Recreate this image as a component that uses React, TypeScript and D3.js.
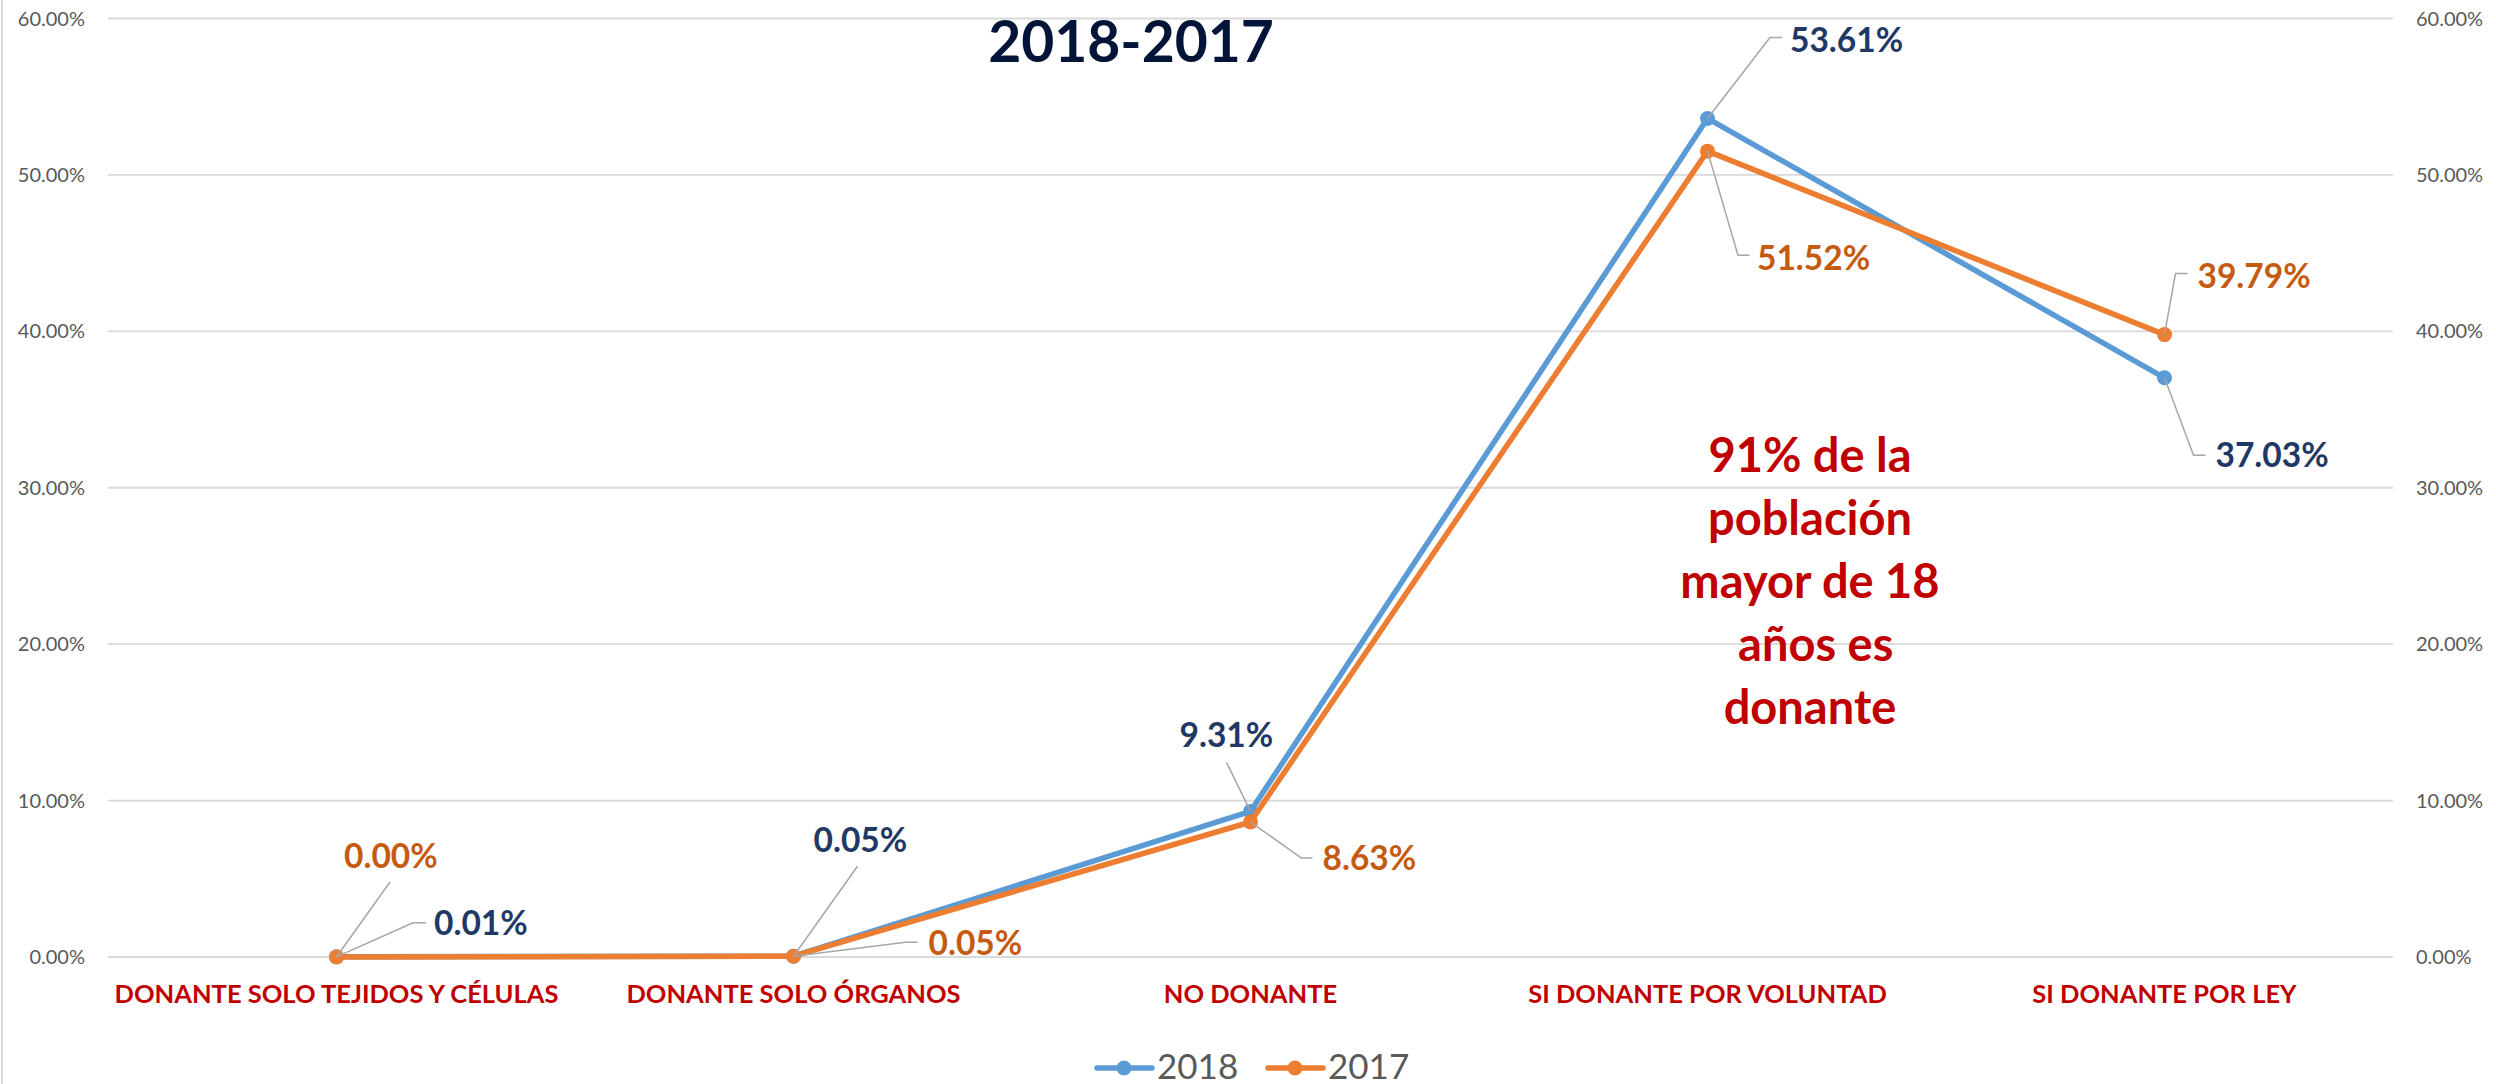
import React from "react";
import * as d3 from "d3";

const categories = [
  "DONANTE SOLO TEJIDOS Y CÉLULAS",
  "DONANTE SOLO ÓRGANOS",
  "NO DONANTE",
  "SI DONANTE POR VOLUNTAD",
  "SI DONANTE POR LEY",
];
const values2018 = [0.0001, 0.0005, 0.0931, 0.5361, 0.3703];
const values2017 = [0.0, 0.0005, 0.0863, 0.5152, 0.3979];
const yTicks = [0, 0.1, 0.2, 0.3, 0.4, 0.5, 0.6];
const seriesNames = ["2018", "2017"];
const annotationLines = ["91% de la", "población", "mayor de 18", " años es", "donante"];

// label placement offsets relative to each point (style)
const labelCfg2018 = [
  { dx: 97.5, dy: -22, lead: [[0, 0], [76.5, -34], [89.5, -34]] },
  { dx: 20, dy: -104, lead: [[0, 0], [64, -90]] },
  { dx: -71, dy: -64, lead: [[0, 0], [-24, -49]] },
  { dx: 82.5, dy: -66, lead: [[0, 0], [62.5, -81], [74.5, -81]] },
  { dx: 51, dy: 89.5, lead: [[0, 0], [29, 77.5], [41, 77.5]] },
];
const labelCfg2017 = [
  { dx: 7.5, dy: -89, lead: [[0, 0], [53.5, -75]] },
  { dx: 135, dy: -1, lead: [[0, 0], [112, -14], [124, -14]] },
  { dx: 72, dy: 48, lead: [[0, 0], [51, 36], [62, 36]] },
  { dx: 49.5, dy: 119, lead: [[0, 0], [30.5, 104], [42, 104]] },
  { dx: 33, dy: -47, lead: [[0, 0], [11, -61], [23, -61]] },
];

const W = 2496;
const H = 1084;
const FONT = "Lato, 'Open Sans', sans-serif";

export default function App() {
  const x = d3.scalePoint<string>().domain(categories).range([108, 2393]).padding(0.5);
  const y = d3.scaleLinear().domain([0, 0.6]).range([957, 18.5]);
  const line = d3
    .line<number>()
    .x((_, i) => x(categories[i]) as number)
    .y((d) => y(d));
  const fmt = d3.format(".2%");

  const series = [
    { name: seriesNames[0], values: values2018, color: "#5B9BD5", labelColor: "#1F3864", cfg: labelCfg2018 },
    { name: seriesNames[1], values: values2017, color: "#ED7D31", labelColor: "#C55A11", cfg: labelCfg2017 },
  ];

  return (
    <svg
      width={W}
      height={H}
      style={{ position: "absolute", left: 0, top: 0, background: "#fff" }}
      fontFamily={FONT}
    >
      <rect x={0} y={0} width={W} height={H} fill="#fff" />
      <line x1={2} x2={2} y1={0} y2={H} stroke="#D9D9D9" strokeWidth={2} />
      {yTicks.map((t) => (
        <g key={t}>
          <line x1={108} x2={2393} y1={y(t)} y2={y(t)} stroke="#D9D9D9" strokeWidth={1.8} />
          <text x={85} y={y(t)} dy="0.35em" textAnchor="end" fontSize={20} fill="#595959">
            {fmt(t)}
          </text>
          <text x={2416} y={y(t)} dy="0.35em" textAnchor="start" fontSize={20} fill="#595959">
            {fmt(t)}
          </text>
        </g>
      ))}
      <text x={1131} y={62} textAnchor="middle" fontSize={57} fontWeight={700} fill="#021538">
        2018-2017
      </text>
      {categories.map((c) => (
        <text key={c} x={x(c) as number} y={1003} textAnchor="middle" fontSize={25.5} fontWeight={700} fill="#C00000">
          {c}
        </text>
      ))}
      {series.map((s) => (
        <g key={s.name}>
          <path d={line(s.values) || ""} fill="none" stroke={s.color} strokeWidth={5.5} strokeLinejoin="round" />
          {s.values.map((v, i) => (
            <circle key={i} cx={x(categories[i]) as number} cy={y(v)} r={7.5} fill={s.color} />
          ))}
        </g>
      ))}
      {series.map((s) =>
        s.values.map((v, i) => {
          const px = x(categories[i]) as number;
          const py = y(v);
          const c = s.cfg[i];
          const pts = c.lead.map(([a, b]) => `${px + a},${py + b}`).join(" ");
          return (
            <g key={s.name + i}>
              <polyline points={pts} fill="none" stroke="#A6A6A6" strokeWidth={1.5} />
              <text x={px + c.dx} y={py + c.dy} fontSize={33.5} fontWeight={700} fill={s.labelColor}>
                {fmt(v)}
              </text>
            </g>
          );
        })
      )}
      <text textAnchor="middle" fontSize={47} fontWeight={700} fill="#C00000">
        {annotationLines.map((l, i) => (
          <tspan key={i} x={1810} y={472 + i * 63} style={{ whiteSpace: "pre" }}>
            {l}
          </tspan>
        ))}
      </text>
      {series.map((s, i) => {
        const lx = 1097 + i * 171;
        return (
          <g key={"lg" + s.name}>
            <line x1={lx} x2={lx + 55} y1={1068} y2={1068} stroke={s.color} strokeWidth={5.5} strokeLinecap="round" />
            <circle cx={lx + 27} cy={1068} r={7.5} fill={s.color} />
            <text x={lx + 60} y={1079} fontSize={35} fill="#595959">
              {s.name}
            </text>
          </g>
        );
      })}
    </svg>
  );
}
